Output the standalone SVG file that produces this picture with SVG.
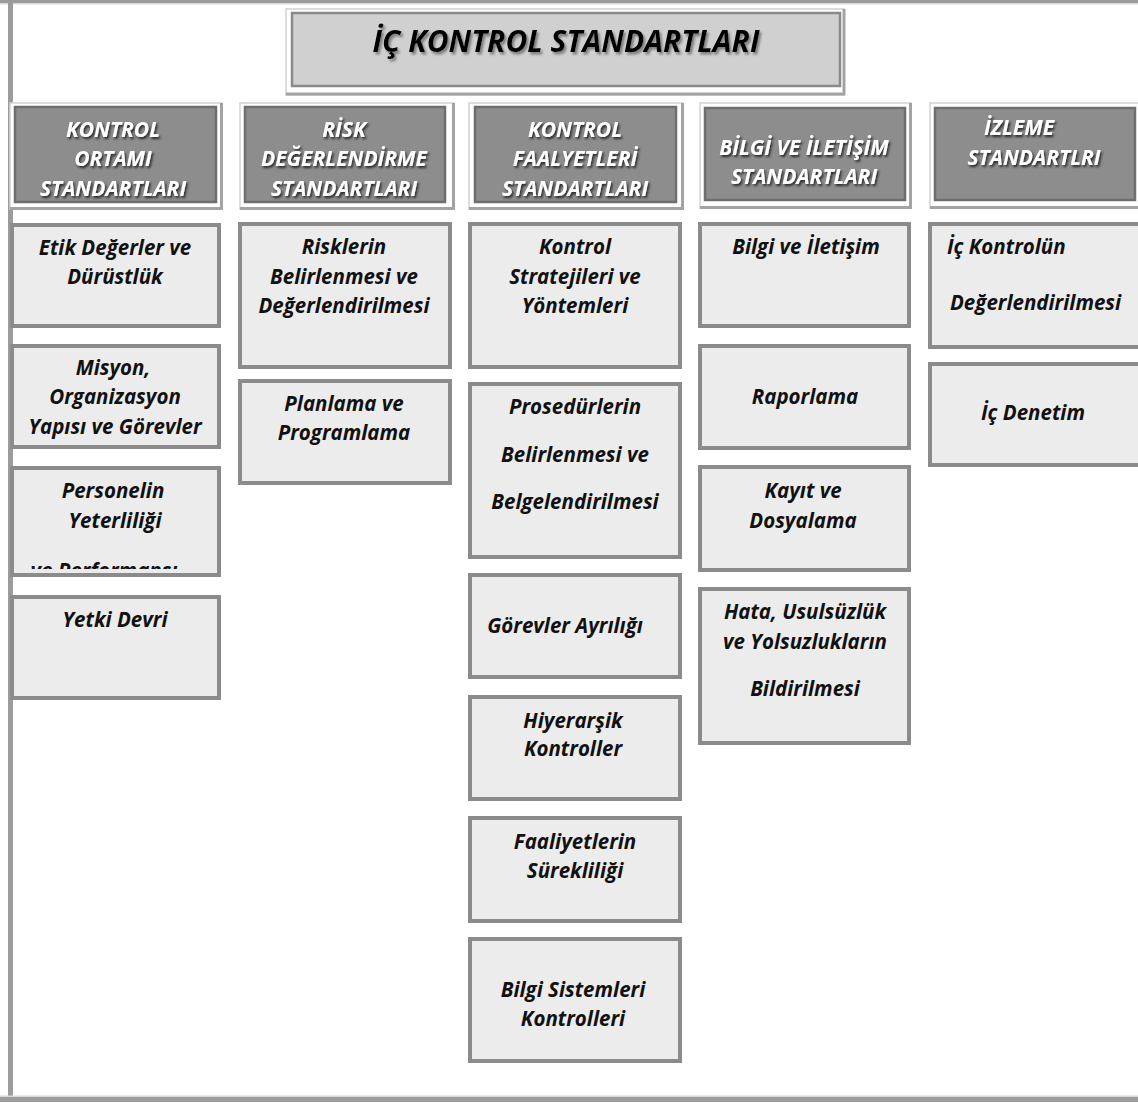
<svg xmlns="http://www.w3.org/2000/svg" width="1138" height="1102" viewBox="0 0 1138 1102">
<defs>
<style>
.frame{fill:#ffffff;stroke:#d2d2d2;stroke-width:1.5}
.fshadow{stroke:#a3a3a3;stroke-width:3;fill:none}
.hbox{fill:#8d8d8d;stroke:#6e6e6e;stroke-width:2.5}
.tbox{fill:#d0d0d0;stroke:#8a8a8a;stroke-width:2.5}
.box{fill:#ececec;stroke:#8b8b8b;stroke-width:4}
.ht{font-family:"Open Sans","Liberation Sans",sans-serif;font-weight:bold;font-style:italic;font-size:21px;fill:#ffffff;text-anchor:middle;filter:url(#sh)}
.tt{font-family:"Open Sans","Liberation Sans",sans-serif;font-weight:bold;font-style:italic;font-size:30px;fill:#000000;text-anchor:middle;filter:url(#sh2)}
.bt{font-family:"Open Sans","Liberation Sans",sans-serif;font-weight:bold;font-style:italic;font-size:20.5px;fill:#111111;text-anchor:middle}
.st{text-anchor:start}
</style>
<filter id="sh" x="-10%" y="-30%" width="120%" height="160%">
<feDropShadow dx="1.5" dy="2" stdDeviation="1.2" flood-color="#222222" flood-opacity="0.95"/>
</filter>
<filter id="sh2" x="-10%" y="-30%" width="120%" height="160%">
<feDropShadow dx="2" dy="2.5" stdDeviation="1.2" flood-color="#777777" flood-opacity="0.9"/>
</filter>
<clipPath id="clipPers"><rect x="14" y="468" width="204" height="101"/></clipPath>
</defs>
<rect x="0" y="0" width="1138" height="1102" fill="#ffffff"/>
<g id="outer-frame">
<rect x="0" y="0" width="1138" height="3" fill="#9c9c9c"/>
<rect x="0" y="3" width="1138" height="1.5" fill="#d8d8d8"/>
<rect x="8" y="0" width="5" height="1102" fill="#9c9c9c"/>
<rect x="0" y="1097" width="1138" height="5" fill="#9c9c9c"/>
<rect x="0" y="1095.5" width="1138" height="1.5" fill="#d8d8d8"/>
</g>
<g id="connectors"/>
<g id="title">
<rect class="frame" x="286" y="9" width="558" height="86"/>
<line class="fshadow" x1="286" y1="94" x2="845" y2="94"/>
<line class="fshadow" x1="844" y1="9" x2="844" y2="95"/>
<rect class="tbox" x="292" y="13" width="548" height="73"/>
<text class="tt" x="566" y="52">İÇ KONTROL STANDARTLARI</text>
</g>
<g id="h1">
<rect class="frame" x="10" y="103" width="212" height="106"/>
<line class="fshadow" x1="10" y1="208.5" x2="223" y2="208.5"/>
<line class="fshadow" x1="221.5" y1="103" x2="221.5" y2="210"/>
<rect class="hbox" x="15" y="107" width="201" height="95"/>
<text class="ht" x="113" y="137">KONTROL</text>
<text class="ht" x="113" y="166">ORTAMI</text>
<text class="ht" x="113" y="196">STANDARTLARI</text>
</g>
<g id="h2">
<rect class="frame" x="240" y="103" width="214" height="106"/>
<line class="fshadow" x1="240" y1="208.5" x2="455" y2="208.5"/>
<line class="fshadow" x1="453.5" y1="103" x2="453.5" y2="210"/>
<rect class="hbox" x="245" y="107" width="200" height="95"/>
<text class="ht" x="344" y="137">RİSK</text>
<text class="ht" x="344" y="166">DEĞERLENDİRME</text>
<text class="ht" x="344" y="196">STANDARTLARI</text>
</g>
<g id="h3">
<rect class="frame" x="469" y="103" width="214" height="106"/>
<line class="fshadow" x1="469" y1="208.5" x2="684" y2="208.5"/>
<line class="fshadow" x1="682.5" y1="103" x2="682.5" y2="210"/>
<rect class="hbox" x="475" y="107" width="201" height="95"/>
<text class="ht" x="575" y="137">KONTROL</text>
<text class="ht" x="575" y="166">FAALYETLERİ</text>
<text class="ht" x="575" y="196">STANDARTLARI</text>
</g>
<g id="h4">
<rect class="frame" x="700" y="103" width="211" height="105"/>
<line class="fshadow" x1="700" y1="207.5" x2="912" y2="207.5"/>
<line class="fshadow" x1="910.5" y1="103" x2="910.5" y2="209"/>
<rect class="hbox" x="705" y="108" width="200" height="92"/>
<text class="ht" x="804" y="155">BİLGİ VE İLETİŞİM</text>
<text class="ht" x="804" y="184">STANDARTLARI</text>
</g>
<g id="h5">
<rect class="frame" x="930" y="103" width="210" height="105"/>
<line class="fshadow" x1="930" y1="207.5" x2="1138" y2="207.5"/>
<rect class="hbox" x="935" y="108" width="200" height="92"/>
<text class="ht" x="1019" y="135">İZLEME</text>
<text class="ht" x="1034" y="165">STANDARTLRI</text>
</g>
<g id="n-etik">
<rect class="box" x="12" y="225" width="207" height="101"/>
<text class="bt" x="115" y="255">Etik Değerler ve</text>
<text class="bt" x="115" y="284">Dürüstlük</text>
</g>
<g id="n-misyon">
<rect class="box" x="12" y="346" width="207" height="101"/>
<text class="bt" x="113" y="375">Misyon,</text>
<text class="bt" x="115" y="404">Organizasyon</text>
<text class="bt" x="115" y="434">Yapısı ve Görevler</text>
</g>
<g id="n-personel">
<rect class="box" x="12" y="468" width="207" height="107"/>
<text class="bt" x="104" y="578" clip-path="url(#clipPers)">ve Performansı</text>
<text class="bt" x="113" y="498">Personelin</text>
<text class="bt" x="115" y="528">Yeterliliği</text>
</g>
<g id="n-yetki">
<rect class="box" x="12" y="597" width="207" height="101"/>
<text class="bt" x="115" y="627">Yetki Devri</text>
</g>
<g id="n-risk">
<rect class="box" x="240" y="224" width="210" height="143"/>
<text class="bt" x="344" y="254">Risklerin</text>
<text class="bt" x="344" y="284">Belirlenmesi ve</text>
<text class="bt" x="344" y="313">Değerlendirilmesi</text>
</g>
<g id="n-planlama">
<rect class="box" x="240" y="381" width="210" height="102"/>
<text class="bt" x="344" y="411">Planlama ve</text>
<text class="bt" x="344" y="440">Programlama</text>
</g>
<g id="n-strateji">
<rect class="box" x="470" y="224" width="210" height="143"/>
<text class="bt" x="575" y="254">Kontrol</text>
<text class="bt" x="575" y="284">Stratejileri ve</text>
<text class="bt" x="575" y="313">Yöntemleri</text>
</g>
<g id="n-prosedur">
<rect class="box" x="470" y="384" width="210" height="173"/>
<text class="bt" x="575" y="414">Prosedürlerin</text>
<text class="bt" x="575" y="462">Belirlenmesi ve</text>
<text class="bt" x="575" y="509">Belgelendirilmesi</text>
</g>
<g id="n-gorevler">
<rect class="box" x="470" y="575" width="210" height="102"/>
<text class="bt" x="565" y="633">Görevler Ayrılığı</text>
</g>
<g id="n-hiyerarsik">
<rect class="box" x="470" y="697" width="210" height="102"/>
<text class="bt" x="573" y="728">Hiyerarşik</text>
<text class="bt" x="573" y="756">Kontroller</text>
</g>
<g id="n-faaliyet">
<rect class="box" x="470" y="818" width="210" height="103"/>
<text class="bt" x="575" y="849">Faaliyetlerin</text>
<text class="bt" x="575" y="878">Sürekliliği</text>
</g>
<g id="n-bilgisis">
<rect class="box" x="470" y="939" width="210" height="122"/>
<text class="bt" x="573" y="997">Bilgi Sistemleri</text>
<text class="bt" x="573" y="1026">Kontrolleri</text>
</g>
<g id="n-bilgi">
<rect class="box" x="700" y="224" width="209" height="102"/>
<text class="bt" x="806" y="254">Bilgi ve İletişim</text>
</g>
<g id="n-rapor">
<rect class="box" x="700" y="346" width="209" height="102"/>
<text class="bt" x="805" y="404">Raporlama</text>
</g>
<g id="n-kayit">
<rect class="box" x="700" y="467" width="209" height="103"/>
<text class="bt" x="803" y="498">Kayıt ve</text>
<text class="bt" x="803" y="528">Dosyalama</text>
</g>
<g id="n-hata">
<rect class="box" x="700" y="589" width="209" height="154"/>
<text class="bt" x="805" y="619">Hata, Usulsüzlük</text>
<text class="bt" x="805" y="649">ve Yolsuzlukların</text>
<text class="bt" x="805" y="696">Bildirilmesi</text>
</g>
<g id="n-ickontrol">
<rect class="box" x="930" y="224" width="210" height="123"/>
<text class="bt st" x="947" y="254">İç Kontrolün</text>
<text class="bt st" x="950" y="310">Değerlendirilmesi</text>
</g>
<g id="n-denetim">
<rect class="box" x="930" y="364" width="210" height="101"/>
<text class="bt" x="1033" y="420">İç Denetim</text>
</g>
</svg>
